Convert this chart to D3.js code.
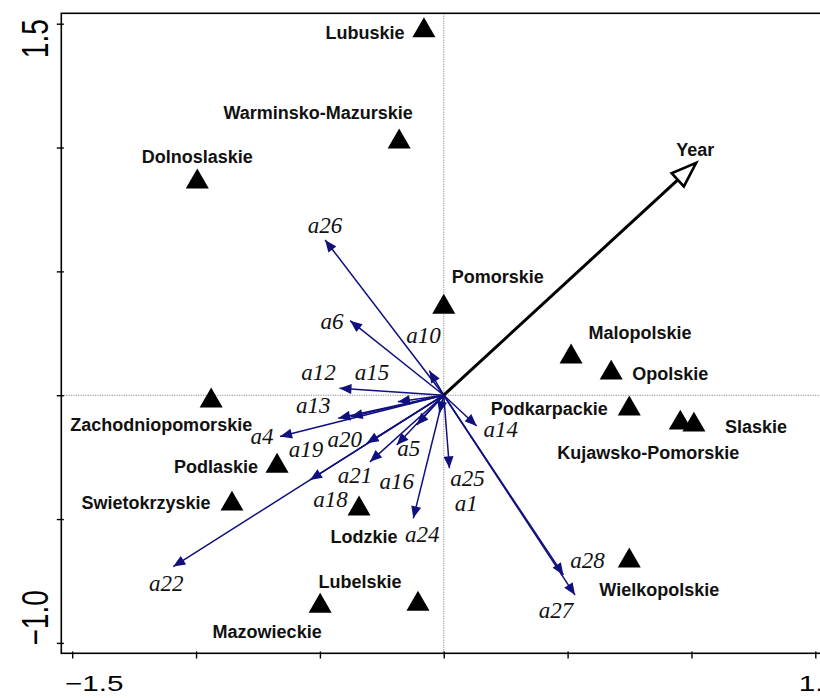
<!DOCTYPE html>
<html>
<head>
<meta charset="utf-8">
<script src="https://cdn.jsdelivr.net/npm/d3@7"></script>
<style>
  body { margin: 0; background: #fff; }
  svg { display: block; }
</style>
</head>
<body>
<svg id="chart" width="820" height="698"></svg>
<script>
// ---- site scores (voivodeships) ----
const regionNames = ["Lubuskie", "Warminsko-Mazurskie", "Dolnoslaskie", "Pomorskie", "Malopolskie",
  "Opolskie", "Podkarpackie", "Kujawsko-Pomorskie", "Slaskie", "Zachodniopomorskie", "Podlaskie",
  "Swietokrzyskie", "Lodzkie", "Lubelskie", "Mazowieckie", "Wielkopolskie"];
const regionX = [-0.08, -0.18, -0.995, 0.00, 0.514, 0.676, 0.749, 0.955, 1.01, -0.939, -0.673,
  -0.855, -0.342, -0.104, -0.499, 0.749];
const regionY = [1.476, 1.027, 0.866, 0.36, 0.159, 0.094, -0.051, -0.108, -0.116, -0.019, -0.282,
  -0.435, -0.455, -0.839, -0.847, -0.665];

// ---- response variables (biplot arrows) ----
const varNames = ["a26", "a6", "a10", "a12", "a15", "a13", "a4", "a20", "a19", "a5", "a21",
  "a16", "a18", "a22", "a24", "a1", "a25", "a14", "a28", "a27"];
const varX = [-0.479, -0.378, -0.058, -0.421, -0.185, -0.426, -0.661, -0.311, -0.540, -0.190,
  -0.298, -0.109, -0.376, -1.092, -0.123, -0.018, 0.023, 0.133, 0.483, 0.530];
const varY = [0.627, 0.301, 0.099, 0.028, -0.026, -0.093, -0.167, -0.194, -0.342, -0.201,
  -0.269, -0.120, -0.087, -0.692, -0.497, -0.073, -0.295, -0.124, -0.726, -0.807];

// ---- explanatory variable ----
const envName = "Year";
const envX = 1.019;
const envY = 0.938;

// ---- axes ----
const xTicks = [-1.5, -1.0, -0.5, 0, 0.5, 1.0, 1.5];
const xTickLabels = ["-1.5", "", "", "", "", "", "1.5"];
const yTicks = [-1.0, -0.5, 0, 0.5, 1.0, 1.5];
const yTickLabels = ["-1.0", "", "", "", "", "1.5"];

// label placement (pixel offsets from the mark: centre x, baseline y)
const regionLabelOffset = {
  "Lubuskie": [-59, 9], "Warminsko-Mazurskie": [-81, -22], "Dolnoslaskie": [0, -18],
  "Pomorskie": [54, -23], "Malopolskie": [69, -17], "Opolskie": [59, 8], "Podkarpackie": [-80, 7],
  "Kujawsko-Pomorskie": [-32, 37], "Slaskie": [62, 9], "Zachodniopomorskie": [-50, 31],
  "Podlaskie": [-61, 8], "Swietokrzyskie": [-86, 6], "Lodzkie": [5, 35], "Lubelskie": [-58, -15],
  "Mazowieckie": [-53, 33], "Wielkopolskie": [30, 36]
};
const varLabelOffset = {
  "a26": [0, -7], "a6": [-18, 8], "a10": [-6, -28], "a12": [-21, -8], "a15": [-26, -22],
  "a13": [-25, -5], "a4": [-18, 7], "a20": [-22, 4], "a19": [-4, -23], "a5": [12, 11],
  "a21": [-15, 21], "a16": [-20, 64], "a18": [-20, 90], "a22": [-7, 24], "a24": [9, 24],
  "a1": [27, 98], "a25": [18, 18], "a14": [24, 11], "a28": [24, -7], "a27": [-19, 23]
};

const svg = d3.select("#chart");

const x = d3.scaleLinear().domain([-1.544, 1.544]).range([61.3, 826.2]);
const y = d3.scaleLinear().domain([-1.042, 1.542]).range([653.3, 13.3]);

const navy = "#10107e";

// reference lines through the origin
svg.append("line")
  .attr("x1", x(0)).attr("x2", x(0)).attr("y1", y.range()[1]).attr("y2", y.range()[0])
  .attr("stroke", "#8a8a8a").attr("stroke-width", 1).attr("stroke-dasharray", "1.2,1.2");
svg.append("line")
  .attr("x1", x.range()[0]).attr("x2", x.range()[1]).attr("y1", y(0)).attr("y2", y(0))
  .attr("stroke", "#8a8a8a").attr("stroke-width", 1).attr("stroke-dasharray", "1.2,1.2");

// plot box
svg.append("rect")
  .attr("x", x.range()[0]).attr("y", y.range()[1])
  .attr("width", x.range()[1] - x.range()[0]).attr("height", y.range()[0] - y.range()[1])
  .attr("fill", "none").attr("stroke", "#000").attr("stroke-width", 1.6);

// axes: ticks straddle the frame
const xAxis = d3.axisBottom(x).tickValues(xTicks).tickSize(7).tickFormat("");
const gx = svg.append("g").attr("transform", `translate(0,${y.range()[0] - 1.8})`).call(xAxis);
gx.select(".domain").remove();
gx.selectAll(".tick line").attr("stroke", "#000").attr("stroke-width", 1.4);

const yAxis = d3.axisLeft(y).tickValues(yTicks).tickSize(7).tickFormat("");
const gy = svg.append("g").attr("transform", `translate(${x.range()[0] + 2.5},0)`).call(yAxis);
gy.select(".domain").remove();
gy.selectAll(".tick line").attr("stroke", "#000").attr("stroke-width", 1.4);

// tick labels
const xLabelX = v => v < 0 ? x(v) + 22 : x(v) + 4;
svg.append("g").selectAll("text")
  .data(xTicks.map((v, i) => ({ v, t: xTickLabels[i] })).filter(d => d.t))
  .join("text")
  .attr("x", d => xLabelX(d.v))
  .attr("y", 691)
  .attr("text-anchor", "middle")
  .attr("font-family", "Liberation Sans, Arial, sans-serif")
  .attr("font-size", 22)
  .attr("transform", d => `translate(${xLabelX(d.v)},0) scale(1.35,1) translate(${-xLabelX(d.v)},0)`)
  .text(d => d.t.replace("-", "\u2212"));

svg.append("g").selectAll("text")
  .data(yTicks.map((v, i) => ({ v, t: yTickLabels[i] })).filter(d => d.t))
  .join("text")
  .attr("transform", d => {
    const cy = d.v > 1 ? y(d.v) + 15 : y(d.v) - 25;
    return `translate(48,${cy}) rotate(-90) scale(1,1.3)`;
  })
  .attr("text-anchor", "middle")
  .attr("font-family", "Liberation Sans, Arial, sans-serif")
  .attr("font-size", 28)
  .text(d => d.t.replace("-", "\u2212"));

// arrowhead marker
const defs = svg.append("defs");
defs.append("marker")
  .attr("id", "headBlue").attr("viewBox", "0 0 12 10").attr("refX", 12).attr("refY", 5)
  .attr("markerUnits", "userSpaceOnUse").attr("markerWidth", 13).attr("markerHeight", 10)
  .attr("orient", "auto")
  .append("path").attr("d", "M0,0 L12,5 L0,10 Z").attr("fill", navy);

// response variable arrows
const vars = varNames.map((n, i) => ({ n, vx: varX[i], vy: varY[i] }));
svg.append("g").selectAll("line")
  .data(vars).join("line")
  .attr("x1", x(0)).attr("y1", y(0))
  .attr("x2", d => x(d.vx)).attr("y2", d => y(d.vy))
  .attr("stroke", navy).attr("stroke-width", 1.5)
  .attr("marker-end", "url(#headBlue)");

svg.append("g").selectAll("text")
  .data(vars).join("text")
  .attr("x", d => x(d.vx) + varLabelOffset[d.n][0])
  .attr("y", d => y(d.vy) + varLabelOffset[d.n][1])
  .attr("text-anchor", "middle")
  .attr("font-family", "Liberation Serif, Times New Roman, serif")
  .attr("font-style", "italic")
  .attr("font-size", 23)
  .attr("fill", "#111")
  .text(d => d.n);

// explanatory arrow (open head)
{
  const x0 = x(0), y0 = y(0), x1 = x(envX), y1 = y(envY);
  const ang = Math.atan2(y1 - y0, x1 - x0);
  const hl = 25, hw = 9;
  const bx = x1 - hl * Math.cos(ang), by = y1 - hl * Math.sin(ang);
  const px = -Math.sin(ang), py = Math.cos(ang);
  svg.append("line").attr("x1", x0).attr("y1", y0).attr("x2", bx).attr("y2", by)
    .attr("stroke", "#000").attr("stroke-width", 3);
  svg.append("path")
    .attr("d", `M${x1},${y1} L${bx + px * hw},${by + py * hw} L${bx - px * hw},${by - py * hw} Z`)
    .attr("fill", "#fff").attr("stroke", "#000").attr("stroke-width", 2.6).attr("stroke-linejoin", "miter");
  svg.append("text").attr("x", x1 - 1).attr("y", y1 - 7)
    .attr("text-anchor", "middle")
    .attr("font-family", "Liberation Sans, Arial, sans-serif").attr("font-weight", "bold")
    .attr("font-size", 18).attr("fill", "#111").text(envName);
}

// site triangles
const regions = regionNames.map((n, i) => ({ n, rx: regionX[i], ry: regionY[i] }));
const tri = d3.symbol().type(d3.symbolTriangle).size(230);
svg.append("g").selectAll("path")
  .data(regions).join("path")
  .attr("transform", d => `translate(${x(d.rx)},${y(d.ry) + 1})`)
  .attr("d", tri)
  .attr("fill", "#000");

svg.append("g").selectAll("text")
  .data(regions).join("text")
  .attr("x", d => x(d.rx) + regionLabelOffset[d.n][0])
  .attr("y", d => y(d.ry) + regionLabelOffset[d.n][1])
  .attr("text-anchor", "middle")
  .attr("font-family", "Liberation Sans, Arial, sans-serif")
  .attr("font-weight", "bold")
  .attr("font-size", 18)
  .attr("fill", "#111")
  .text(d => d.n);
</script>
</body>
</html>
